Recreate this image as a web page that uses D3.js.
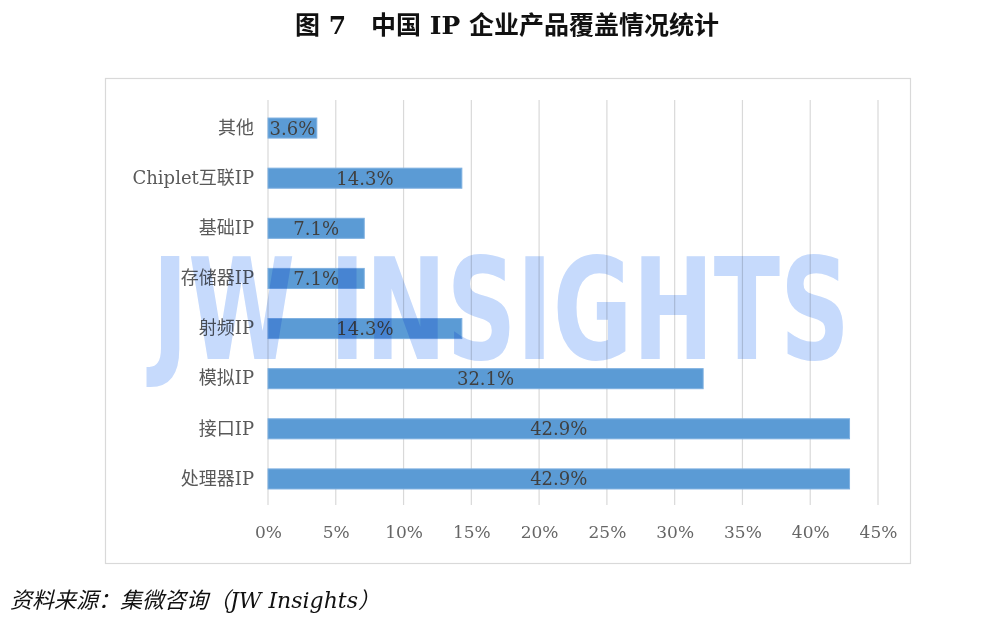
<!DOCTYPE html>
<html>
<head>
<meta charset="utf-8">
<script src="https://cdn.jsdelivr.net/npm/d3@7"></script>
<style>
  body { margin: 0; background: #fff; }
  svg { display: block; }
</style>
</head>
<body>
<div id="chart"></div>
<script>
// categories (top to bottom) and values in %
var categories = ["其他", "Chiplet互联IP", "基础IP", "存储器IP", "射频IP", "模拟IP", "接口IP", "处理器IP"];
var values = [3.6, 14.3, 7.1, 7.1, 14.3, 32.1, 42.9, 42.9];
var tickValues = [0, 5, 10, 15, 20, 25, 30, 35, 40, 45];

var W = 1000, H = 619;
var serif = "'DejaVu Serif', 'Noto Sans CJK SC', serif";

var svg = d3.select("#chart")
  .append("svg")
    .attr("width", W)
    .attr("height", H);

// title
svg.append("text")
  .attr("x", 507)
  .attr("y", 34)
  .attr("text-anchor", "middle")
  .style("font-family", serif)
  .style("font-size", "25px")
  .style("font-weight", "600")
  .style("fill", "#111")
  .text("图 7　中国 IP 企业产品覆盖情况统计");

// chart frame
svg.append("rect")
  .attr("x", 105.5)
  .attr("y", 78.5)
  .attr("width", 805)
  .attr("height", 485)
  .style("fill", "none")
  .style("stroke", "#d9d9d9")
  .style("stroke-width", 1.2);

// scales
var x = d3.scaleLinear()
  .domain([0, 45])
  .range([268, 878]);

var y = d3.scaleBand()
  .domain(categories)
  .range([103, 504])
  .paddingInner(0.6)
  .paddingOuter(0.3);

// gridlines
svg.append("g")
  .selectAll("line")
  .data(tickValues)
  .enter()
  .append("line")
    .attr("x1", function (d) { return x(d); })
    .attr("x2", function (d) { return x(d); })
    .attr("y1", 100)
    .attr("y2", 505)
    .style("stroke", "#d9d9d9")
    .style("stroke-width", 1.2);

// x axis labels
var xAxis = svg.append("g")
  .attr("transform", "translate(0,505)")
  .call(d3.axisBottom(x).tickValues(tickValues).tickSize(0).tickPadding(21)
    .tickFormat(function (d) { return d + "%"; }));
xAxis.select(".domain").remove();
xAxis.selectAll("text")
  .style("font-family", serif)
  .style("font-size", "17px")
  .style("fill", "#666");

// y axis labels
var yAxis = svg.append("g")
  .attr("transform", "translate(268,0)")
  .call(d3.axisLeft(y).tickSize(0).tickPadding(14));
yAxis.select(".domain").remove();
yAxis.selectAll("text")
  .style("font-family", serif)
  .style("font-size", "18px")
  .style("fill", "#595959");

// bars
svg.append("g")
  .selectAll("rect")
  .data(values)
  .enter()
  .append("rect")
    .attr("x", x(0))
    .attr("y", function (d, i) { return y(categories[i]); })
    .attr("width", function (d) { return x(d) - x(0); })
    .attr("height", y.bandwidth())
    .style("fill", "#5b9bd5")
    .style("stroke", "#7eb0e0")
    .style("stroke-width", 1);

// value labels
svg.append("g")
  .selectAll("text")
  .data(values)
  .enter()
  .append("text")
    .attr("x", function (d) { return (x(0) + x(d)) / 2; })
    .attr("y", function (d, i) { return y(categories[i]) + y.bandwidth() / 2; })
    .attr("dy", "0.36em")
    .attr("text-anchor", "middle")
    .style("font-family", serif)
    .style("font-size", "18px")
    .style("fill", "#404040")
    .text(function (d) { return d.toFixed(1) + "%"; });

// watermark
svg.append("text")
  .attr("x", 152)
  .attr("y", 359)
  .attr("textLength", 698)
  .attr("lengthAdjust", "spacingAndGlyphs")
  .style("font-family", "'Liberation Sans Narrow', 'DejaVu Sans Condensed', 'Liberation Sans', sans-serif")
  .style("font-weight", "bold")
  .style("font-size", "140px")
  .style("fill", "#c6dafc")
  .style("mix-blend-mode", "multiply")
  .text("JW INSIGHTS");

// source note
svg.append("text")
  .attr("x", 10)
  .attr("y", 608)
  .style("font-family", serif)
  .style("font-size", "22px")
  .style("font-style", "italic")
  .style("fill", "#111")
  .text("资料来源：集微咨询（JW Insights）");
</script>
</body>
</html>
